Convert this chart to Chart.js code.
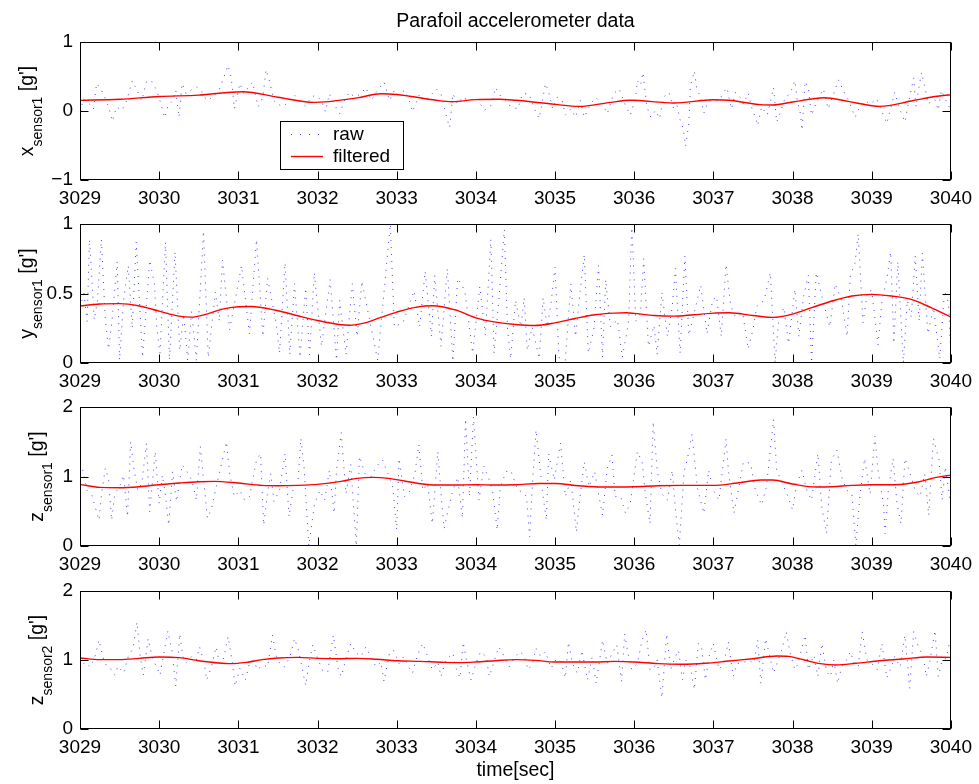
<!DOCTYPE html>
<html>
<head>
<meta charset="utf-8">
<script src="https://cdn.jsdelivr.net/npm/chart.js@4.4.1/dist/chart.umd.min.js"></script>
<style>
html,body{margin:0;padding:0;background:#fff;}
#wrap{position:relative;width:979px;height:784px;overflow:hidden;background:#fff;}
canvas{position:absolute;left:0;}
</style>
</head>
<body>
<div id="wrap">
<canvas id="c1"></canvas>
<canvas id="c2"></canvas>
<canvas id="c3"></canvas>
<canvas id="c4"></canvas>
</div>
<script>
// ---------------- DATA ----------------
const T0 = 3029;
const xTickVals = [3029,3030,3031,3032,3033,3034,3035,3036,3037,3038,3039,3040];
const yTicks1 = [-1,0,1];
const yTicks2 = [0,0.5,1];
const yTicks3 = [0,1,2];
const yTicks4 = [0,1,2];
const titleText = 'Parafoil accelerometer data';
const xLabelText = 'time[sec]';
const yLabelMain = ['x','y','z','z'];
const yLabelSub = ['sensor1','sensor1','sensor1','sensor2'];
const yLabelUnit = " [g']";
const seriesNames = ['raw','filtered'];

// filtered (absolute time, g)
const filtT1 = [3029,3029.5,3030,3030.5,3031.05,3031.5,3031.95,3032.5,3032.8,3033,3033.5,3033.7,3034,3034.3,3034.5,3035,3035.3,3035.7,3035.95,3036.5,3037,3037.2,3037.6,3037.75,3038,3038.4,3038.7,3039,3039.1,3039.5,3039.8,3040];
const filtV1 = [0.154,0.17,0.21,0.23,0.28,0.20,0.125,0.19,0.25,0.24,0.155,0.135,0.165,0.17,0.155,0.096,0.067,0.125,0.155,0.116,0.164,0.155,0.092,0.087,0.13,0.193,0.14,0.077,0.067,0.145,0.21,0.236];

const filtT2 = [3029,3029.25,3029.5,3029.75,3030,3030.25,3030.4,3030.6,3030.8,3031,3031.15,3031.5,3031.75,3032,3032.3,3032.4,3032.6,3032.8,3033,3033.25,3033.45,3033.75,3034,3034.25,3034.5,3034.75,3035,3035.25,3035.5,3035.75,3035.9,3036,3036.25,3036.5,3036.75,3037,3037.2,3037.5,3037.75,3038,3038.25,3038.5,3038.75,3039,3039.25,3039.5,3039.75,3040];
const filtV2 = [0.41,0.424,0.427,0.41,0.373,0.337,0.33,0.352,0.388,0.405,0.407,0.376,0.34,0.306,0.275,0.272,0.289,0.328,0.366,0.402,0.412,0.38,0.325,0.294,0.277,0.27,0.289,0.32,0.347,0.359,0.361,0.357,0.342,0.337,0.347,0.359,0.361,0.342,0.328,0.352,0.40,0.446,0.482,0.494,0.482,0.458,0.398,0.33];

const filtT3 = [3029,3029.25,3029.5,3029.75,3030,3030.25,3030.5,3030.7,3031,3031.3,3031.5,3031.75,3032,3032.3,3032.5,3032.7,3032.9,3033.1,3033.3,3033.5,3033.75,3034,3034.25,3034.5,3034.8,3035,3035.3,3035.6,3036,3036.3,3036.6,3037,3037.3,3037.6,3037.75,3038,3038.3,3038.5,3038.75,3039,3039.3,3039.6,3039.8,3040];
const filtV3 = [0.887,0.843,0.839,0.853,0.882,0.906,0.925,0.93,0.906,0.872,0.867,0.872,0.887,0.93,0.973,0.988,0.973,0.935,0.896,0.877,0.877,0.882,0.877,0.882,0.90,0.90,0.867,0.848,0.853,0.867,0.872,0.872,0.906,0.949,0.949,0.892,0.848,0.853,0.872,0.882,0.882,0.925,0.983,1.02];

const filtT4 = [3029,3029.25,3029.5,3029.75,3030,3030.25,3030.5,3030.75,3030.9,3031.1,3031.3,3031.5,3031.75,3032,3032.25,3032.5,3032.75,3033,3033.3,3033.6,3033.8,3034,3034.25,3034.5,3034.75,3035,3035.5,3035.75,3036,3036.3,3036.6,3036.9,3037.2,3037.5,3037.8,3037.95,3038.15,3038.35,3038.55,3038.8,3039.1,3039.4,3039.7,3040];
const filtV4 = [1.029,1.005,1.005,1.024,1.043,1.034,0.99,0.957,0.947,0.966,1.005,1.029,1.038,1.024,1.019,1.024,1.01,0.99,0.98,0.966,0.962,0.971,0.99,1.005,0.995,0.971,0.971,0.98,0.971,0.947,0.938,0.952,0.986,1.019,1.058,1.053,1.0,0.947,0.928,0.952,0.99,1.014,1.043,1.038];

// raw (time offset from T0 in s, g)
const rawT1 = [
0.01,0.04,0.12,0.17,0.21,0.27,0.33,0.36,0.41,0.46,
0.53,0.59,0.66,0.72,0.78,0.84,0.90,0.97,1.01,1.07,
1.11,1.17,1.21,1.25,1.29,1.34,1.42,1.47,1.53,1.60,
1.68,1.76,1.87,1.91,1.95,2.02,2.07,2.13,2.18,2.25,
2.31,2.35,2.39,2.45,2.50,2.56,2.65,2.71,2.77,2.85,
2.92,2.98,3.05,3.10,3.15,3.21,3.28,3.34,3.40,3.47,
3.55,3.61,3.68,3.74,3.84,3.91,3.97,4.03,4.10,4.16,
4.20,4.29,4.35,4.41,4.50,4.56,4.60,4.64,4.67,4.71,
4.77,4.83,4.92,5.00,5.11,5.19,5.25,5.32,5.38,5.44,
5.53,5.59,5.67,5.74,5.80,5.88,5.92,5.97,6.03,6.09,
6.13,6.20,6.26,6.32,6.37,6.43,6.51,6.60,6.66,6.74,
6.81,6.89,6.95,7.02,7.04,7.08,7.11,7.16,7.21,7.27,
7.32,7.37,7.44,7.50,7.54,7.58,7.62,7.65,7.69,7.71,
7.76,7.79,7.84,7.88,7.94,8.00,8.07,8.13,8.17,8.23,
8.28,8.34,8.38,8.44,8.49,8.53,8.56,8.61,8.68,8.72,
8.76,8.80,8.84,8.91,8.97,9.03,9.06,9.10,9.12,9.16,
9.20,9.24,9.31,9.39,9.45,9.52,9.58,9.64,9.71,9.79,
9.85,9.92,9.98,10.06,10.13,10.19,10.23,10.29,10.36,10.42,
10.47,10.53,10.56,10.59,10.63,10.67,10.72,10.78,10.84,10.88,
10.94,10.99];
const rawV1 = [
-0.01,0.18,0.10,0.03,0.40,0.31,0.15,0.06,-0.15,0.06,
0.01,0.15,0.44,0.30,0.15,0.43,0.44,0.30,0.15,-0.10,
0.07,0.15,0.30,-0.09,0.40,0.25,0.32,0.35,0.30,0.15,
0.20,0.31,0.66,0.49,0.03,0.40,0.25,0.35,0.42,0.06,
0.20,0.60,0.45,0.15,0.10,0.06,0.15,0.23,0.15,0.07,
0.20,0.23,0.15,-0.01,0.25,0.10,-0.04,0.15,0.27,0.20,
0.25,0.34,0.15,0.27,0.42,0.15,0.30,0.23,0.30,0.15,
-0.01,0.25,0.15,0.20,0.32,0.25,0.06,-0.13,-0.24,0.25,
0.10,0.20,0.15,0.20,0.01,0.08,0.34,0.20,0.15,0.06,
0.03,0.25,0.25,0.03,-0.11,0.40,0.27,0.03,0.20,0.15,
-0.06,0.03,-0.09,0.15,-0.09,0.06,0.20,0.10,-0.04,0.25,
0.32,0.08,-0.06,0.20,0.44,0.37,0.56,0.06,-0.09,0.01,
-0.11,0.20,0.27,0.03,0.08,-0.13,-0.26,-0.51,-0.18,0.36,
0.58,0.32,0.20,-0.03,0.15,0.15,0.15,0.27,0.34,0.03,
0.27,0.20,0.10,0.26,0.03,-0.09,-0.21,0.06,-0.06,0.13,
0.34,-0.16,-0.04,0.20,0.25,0.44,0.15,-0.04,-0.28,0.43,
0.32,-0.06,0.15,0.32,0.03,0.25,0.45,0.30,0.15,-0.09,
0.06,0.15,0.10,0.18,-0.01,-0.18,-0.01,0.27,0.01,-0.16,
0.15,0.48,0.06,0.30,0.56,0.35,0.10,0.23,0.01,0.30,
0.15,0.03];

const rawT2 = [
0.00,0.05,0.09,0.12,0.18,0.22,0.27,0.32,0.36,0.40,
0.47,0.50,0.55,0.61,0.66,0.71,0.79,0.88,0.94,0.97,
1.01,1.08,1.13,1.20,1.26,1.31,1.36,1.41,1.47,1.56,
1.62,1.71,1.76,1.80,1.89,2.04,2.14,2.23,2.31,2.37,
2.48,2.52,2.59,2.65,2.71,2.78,2.85,2.90,2.96,3.05,
3.16,3.24,3.28,3.36,3.44,3.50,3.56,3.63,3.70,3.76,
3.92,3.97,4.08,4.22,4.29,4.36,4.44,4.48,4.56,4.64,
4.71,4.77,4.86,4.96,5.05,5.12,5.19,5.23,5.29,5.36,
5.40,5.44,5.50,5.57,5.61,5.65,5.71,5.80,5.85,5.90,
5.95,6.00,6.05,6.13,6.20,6.26,6.32,6.37,6.42,6.49,
6.55,6.60,6.64,6.70,6.79,6.85,6.93,6.97,7.02,7.08,
7.12,7.18,7.25,7.29,7.35,7.42,7.48,7.52,7.58,7.64,
7.69,7.75,7.84,7.92,7.99,8.04,8.10,8.16,8.22,8.28,
8.37,8.44,8.50,8.55,8.64,8.72,8.78,8.82,8.89,8.95,
9.03,9.08,9.14,9.20,9.24,9.30,9.37,9.47,9.54,9.62,
9.69,9.73,9.79,9.83,9.89,9.95,10.00,10.08,10.13,10.19,
10.24,10.28,10.33,10.40,10.45,10.50,10.55,10.60,10.64,10.71,
10.78,10.86,10.92,10.97,11.00];
const rawV2 = [
0.40,0.50,0.30,0.89,0.31,0.45,0.89,0.31,0.10,0.28,
0.73,0.02,0.45,0.70,0.25,0.87,0.04,0.74,0.57,0.25,
0.07,0.87,0.02,0.80,0.09,0.35,0.02,0.37,0.02,0.95,
0.04,0.51,0.30,0.74,0.24,0.70,0.21,0.89,0.19,0.61,
0.28,0.07,0.72,0.06,0.57,0.04,0.54,0.06,0.65,0.12,
0.60,0.02,0.45,0.06,0.57,0.19,0.59,0.39,0.19,0.02,
1.00,0.26,0.29,0.52,0.26,0.66,0.19,0.63,0.12,0.68,
0.01,0.61,0.52,0.07,0.55,0.20,0.89,0.07,0.45,0.96,
0.24,0.03,0.45,0.26,0.47,0.09,0.26,0.03,0.47,0.26,
0.43,0.69,0.04,0.02,0.57,0.19,0.53,0.78,0.07,0.24,
0.70,0.04,0.60,0.26,0.31,0.04,0.30,1.00,0.30,0.36,
0.75,0.12,0.27,0.06,0.51,0.19,0.40,0.68,0.07,0.77,
0.20,0.34,0.56,0.21,0.45,0.48,0.19,0.71,0.41,0.33,
0.36,0.10,0.24,0.41,0.45,0.65,0.00,0.28,0.40,0.14,
0.53,0.19,0.48,0.63,0.00,0.65,0.48,0.26,0.57,0.45,
0.19,0.63,0.72,0.93,0.29,0.52,0.52,0.13,0.45,0.60,
0.80,0.14,0.73,0.00,0.45,0.33,0.77,0.30,0.79,0.21,
0.40,0.03,0.52,0.43,0.04];

const rawT3 = [
0.00,0.04,0.09,0.15,0.24,0.27,0.32,0.36,0.40,0.44,
0.50,0.55,0.60,0.64,0.68,0.73,0.78,0.84,0.88,0.95,
1.00,1.04,1.08,1.12,1.17,1.22,1.29,1.34,1.41,1.47,
1.52,1.57,1.61,1.66,1.72,1.78,1.85,1.89,1.95,2.02,
2.08,2.14,2.23,2.28,2.32,2.37,2.41,2.45,2.52,2.59,
2.64,2.69,2.75,2.79,2.83,2.89,2.96,3.03,3.09,3.15,
3.21,3.24,3.30,3.36,3.42,3.49,3.53,3.60,3.68,3.74,
3.82,3.89,3.95,4.00,4.03,4.10,4.16,4.23,4.28,4.33,
4.39,4.45,4.52,4.57,4.60,4.64,4.71,4.77,4.83,4.87,
4.92,4.97,5.04,5.10,5.17,5.21,5.27,5.31,5.38,5.44,
5.53,5.59,5.64,5.68,5.71,5.76,5.80,5.84,5.89,5.92,
5.99,6.07,6.13,6.20,6.27,6.32,6.37,6.43,6.50,6.60,
6.66,6.72,6.76,6.83,6.89,6.95,7.04,7.10,7.14,7.20,
7.24,7.29,7.35,7.42,7.48,7.52,7.57,7.63,7.67,7.73,
7.80,7.88,7.94,8.00,8.07,8.11,8.16,8.19,8.26,8.30,
8.38,8.47,8.53,8.61,8.67,8.76,8.80,8.87,8.93,9.00,
9.05,9.12,9.18,9.24,9.32,9.37,9.43,9.49,9.56,9.63,
9.69,9.75,9.80,9.85,9.91,9.98,10.04,10.08,10.15,10.17,
10.21,10.27,10.32,10.37,10.42,10.50,10.55,10.61,10.67,10.72,
10.78,10.85,10.89,10.93,10.99];
const rawV3 = [
1.19,1.07,0.80,0.73,0.37,0.73,1.12,0.97,0.37,0.76,
0.85,1.02,0.42,1.50,1.12,0.80,0.90,1.48,0.49,1.36,
0.61,1.02,0.73,0.30,1.07,0.64,1.17,1.09,0.95,0.66,
1.43,0.85,0.40,0.54,0.85,1.14,1.50,1.04,0.71,0.80,
0.66,0.71,1.24,1.33,0.30,0.78,1.04,0.64,0.80,1.33,
0.42,0.80,0.87,1.55,1.14,0.00,0.59,0.80,0.66,1.09,
0.47,1.09,1.63,0.75,1.17,0.00,1.29,1.04,1.00,1.14,
1.24,1.04,0.85,0.23,1.26,0.71,0.78,1.04,1.46,0.80,
0.90,0.32,1.36,0.61,0.25,0.47,0.80,0.99,0.40,1.83,
0.71,1.86,0.66,1.15,0.95,0.80,0.23,0.85,1.07,1.09,
0.80,0.78,0.71,0.13,0.80,1.67,1.24,0.80,0.37,1.33,
0.95,1.48,0.71,0.95,0.20,0.75,1.21,0.85,1.07,0.44,
1.12,1.31,0.71,0.71,0.47,0.61,1.36,1.21,0.76,0.32,
1.79,1.09,0.75,0.66,1.09,0.54,0.01,1.07,1.24,1.61,
0.83,0.47,1.09,0.80,0.66,1.04,1.54,1.09,0.47,0.71,
1.21,1.19,0.80,0.59,0.85,1.82,1.09,0.90,0.75,0.52,
0.88,1.09,0.80,0.66,1.33,0.56,0.18,1.24,1.38,0.95,
0.80,0.75,0.01,0.71,1.26,0.75,1.58,1.09,0.59,0.18,
0.80,1.26,0.61,0.32,1.26,0.99,0.80,0.71,1.04,0.44,
1.55,1.24,0.66,1.14,0.66];

const rawT4 = [
0.00,0.06,0.13,0.19,0.24,0.29,0.34,0.40,0.44,0.48,
0.55,0.61,0.67,0.72,0.76,0.80,0.86,0.92,0.97,1.01,
1.07,1.11,1.16,1.21,1.26,1.30,1.34,1.41,1.47,1.51,
1.57,1.60,1.66,1.72,1.76,1.81,1.87,1.92,1.96,2.02,
2.09,2.14,2.19,2.24,2.31,2.37,2.43,2.48,2.53,2.58,
2.65,2.71,2.76,2.81,2.85,2.90,2.94,3.01,3.07,3.13,
3.20,3.26,3.30,3.36,3.42,3.49,3.55,3.61,3.67,3.74,
3.80,3.84,3.91,3.96,4.03,4.09,4.15,4.20,4.26,4.33,
4.39,4.45,4.52,4.56,4.62,4.71,4.75,4.80,4.84,4.88,
4.94,5.00,5.06,5.13,5.17,5.23,5.29,5.36,5.42,5.48,
5.55,5.61,5.66,5.71,5.76,5.82,5.88,5.95,6.01,6.07,
6.13,6.17,6.22,6.28,6.34,6.41,6.47,6.52,6.60,6.66,
6.71,6.78,6.84,6.88,6.92,6.97,7.04,7.10,7.15,7.20,
7.25,7.29,7.35,7.41,7.46,7.52,7.56,7.61,7.65,7.71,
7.76,7.81,7.85,7.90,7.95,8.00,8.07,8.13,8.19,8.25,
8.30,8.36,8.45,8.51,8.56,8.60,8.66,8.71,8.76,8.82,
8.87,8.92,8.97,9.03,9.07,9.12,9.16,9.20,9.27,9.32,
9.37,9.43,9.48,9.52,9.57,9.62,9.68,9.73,9.78,9.83,
9.88,9.94,10.00,10.07,10.13,10.19,10.25,10.29,10.36,10.42,
10.48,10.53,10.59,10.65,10.69,10.73,10.80,10.84,10.89,10.94,
10.98];
const rawV4 = [
0.86,0.97,0.90,1.05,1.29,1.04,0.90,0.86,0.78,0.91,
0.81,1.05,1.17,1.55,1.05,0.78,1.31,1.00,0.90,0.78,
1.17,1.42,1.14,0.62,1.38,1.05,0.96,1.05,1.00,1.19,
0.95,0.71,0.90,1.19,0.95,1.00,1.34,1.00,0.62,0.88,
0.71,0.95,1.00,0.86,0.93,0.90,1.36,1.05,0.93,0.90,
1.04,1.31,1.14,0.86,0.63,1.00,1.22,1.00,0.83,0.83,
1.36,0.88,0.76,1.02,1.24,1.10,1.05,1.19,1.05,0.90,
0.97,0.69,1.10,1.14,0.95,1.05,0.90,0.81,1.07,1.24,
1.05,0.86,0.97,0.76,1.00,1.10,0.88,0.74,1.26,1.00,
0.71,0.95,1.12,1.05,0.76,0.98,1.19,1.05,0.90,1.02,
1.12,1.07,0.86,0.93,1.17,1.05,1.12,0.88,1.00,1.00,
0.74,1.26,0.95,0.81,1.14,0.71,1.05,0.66,1.29,0.95,
1.07,1.22,0.69,1.38,1.10,0.86,0.95,1.29,1.44,0.86,
0.88,1.00,0.45,1.38,0.86,1.05,1.14,0.71,1.00,0.90,
0.57,1.24,1.19,0.71,1.07,1.24,0.86,0.95,1.26,0.76,
0.95,0.95,1.00,0.95,1.29,0.66,1.31,1.07,0.81,1.00,
1.17,1.41,1.10,0.86,0.95,1.19,1.36,0.86,1.07,0.76,
1.24,0.83,0.76,1.00,0.66,0.90,1.00,1.12,0.95,0.90,
1.41,1.00,0.95,0.86,1.24,0.74,0.90,1.05,0.90,1.36,
0.59,1.41,1.19,1.05,0.76,0.95,1.43,0.76,1.00,1.02,
1.24];

// ---------------- STYLE / LAYOUT ----------------
const FONT = '"Liberation Sans", Arial, Helvetica, sans-serif';
const TICK_PX = 19;
const LABEL_PX = 19.5;
const RAW_COLOR = 'rgba(0,0,255,0.75)';
const RAW_DASH = [1, 6];
Chart.defaults.font.family = FONT;
Chart.defaults.font.size = TICK_PX;
Chart.defaults.color = '#000';

const panels = [
  {id:'c1', top:0,   padTop:42, plotH:138, xH:36, yMin:-1, yMax:1, yTicks:yTicks1, rawT:rawT1, rawV:rawV1, fT:filtT1, fV:filtV1, labX:33, title:true},
  {id:'c2', top:204, padTop:20, plotH:139, xH:36, yMin:0,  yMax:1, yTicks:yTicks2, rawT:rawT2, rawV:rawV2, fT:filtT2, fV:filtV2, labX:33},
  {id:'c3', top:387, padTop:20, plotH:139, xH:36, yMin:0,  yMax:2, yTicks:yTicks3, rawT:rawT3, rawV:rawV3, fT:filtT3, fV:filtV3, labX:43},
  {id:'c4', top:571, padTop:20, plotH:138, xH:55, yMin:0,  yMax:2, yTicks:yTicks4, rawT:rawT4, rawV:rawV4, fT:filtT4, fV:filtV4, labX:43, xlabel:true}
];

function fmtY(v){ return v < 0 ? '\u2212' + Math.abs(v) : String(v); }

const framePlugin = {
  id: 'frame',
  afterDatasetsDraw(chart, args, opts){
    const {ctx, chartArea:a, scales:{x, y}} = chart;
    const L = Math.round(a.left) + 0.5, R = Math.round(a.right) - 0.5;
    const T = Math.round(a.top) + 0.5, B = Math.round(a.bottom) - 0.5;
    const TL = 8;
    ctx.save();
    ctx.strokeStyle = '#000';
    ctx.lineWidth = 1;
    ctx.beginPath();
    x.ticks.forEach(t => {
      const px = Math.round(x.getPixelForValue(t.value)) + 0.5;
      ctx.moveTo(px, B); ctx.lineTo(px, B - TL);
      ctx.moveTo(px, T); ctx.lineTo(px, T + TL);
    });
    y.ticks.forEach(t => {
      const py = Math.round(y.getPixelForValue(t.value)) + 0.5;
      ctx.moveTo(L, py); ctx.lineTo(L + TL, py);
      ctx.moveTo(R, py); ctx.lineTo(R - TL, py);
    });
    ctx.stroke();
    ctx.strokeRect(L, T, R - L, B - T);

    // y label with subscript
    const i = opts.index;
    const cy = (a.top + a.bottom) / 2;
    const fMain = LABEL_PX + 'px ' + FONT;
    const fSub = '14px ' + FONT;
    ctx.fillStyle = '#000';
    ctx.textBaseline = 'alphabetic';
    ctx.textAlign = 'left';
    ctx.font = fMain; const w1 = ctx.measureText(yLabelMain[i]).width;
    ctx.font = fSub;  const w2 = ctx.measureText(yLabelSub[i]).width;
    ctx.font = fMain; const w3 = ctx.measureText(yLabelUnit).width;
    const total = w1 + w2 + w3;
    ctx.save();
    ctx.translate(opts.labX, cy);
    ctx.rotate(-Math.PI / 2);
    let sx = -total / 2;
    ctx.font = fMain; ctx.fillText(yLabelMain[i], sx, 0); sx += w1;
    ctx.font = fSub;  ctx.fillText(yLabelSub[i], sx, 8.5); sx += w2;
    ctx.font = fMain; ctx.fillText(yLabelUnit, sx, 0);
    ctx.restore();

    const midX = (a.left + a.right) / 2;
    if (opts.title) {
      ctx.font = LABEL_PX + 'px ' + FONT;
      ctx.textAlign = 'center';
      ctx.fillText(titleText, midX, 27);
      // legend box
      const bx = 280.5, by = 121.5, bw = 123, bh = 48;
      ctx.fillStyle = '#fff';
      ctx.fillRect(bx, by, bw, bh);
      ctx.strokeStyle = '#000';
      ctx.strokeRect(bx, by, bw, bh);
      // raw sample
      ctx.strokeStyle = RAW_COLOR;
      ctx.setLineDash([1, 8]);
      ctx.beginPath(); ctx.moveTo(291, 134.5); ctx.lineTo(320, 134.5); ctx.stroke();
      ctx.setLineDash([]);
      // filtered sample
      ctx.strokeStyle = '#ff0000';
      ctx.lineWidth = 1.4;
      ctx.beginPath(); ctx.moveTo(291, 156.5); ctx.lineTo(323, 156.5); ctx.stroke();
      ctx.fillStyle = '#000';
      ctx.textAlign = 'left';
      ctx.textBaseline = 'middle';
      ctx.font = TICK_PX + 'px ' + FONT;
      ctx.fillText(seriesNames[0], 333, 135);
      ctx.fillText(seriesNames[1], 333, 157);
    }
    if (opts.xlabel) {
      ctx.font = LABEL_PX + 'px ' + FONT;
      ctx.textAlign = 'center';
      ctx.textBaseline = 'alphabetic';
      ctx.fillText(xLabelText, midX, a.bottom + 47);
    }
    ctx.restore();
  }
};

panels.forEach((p, idx) => {
  const cv = document.getElementById(p.id);
  cv.width = 979;
  cv.height = p.padTop + p.plotH + p.xH;
  cv.style.top = p.top + 'px';
  const rawData = p.rawT.map((t, k) => ({x: T0 + t, y: p.rawV[k]}));
  const fData = p.fT.map((t, k) => ({x: t, y: p.fV[k]}));
  new Chart(cv, {
    type: 'line',
    data: {
      datasets: [
        {label: seriesNames[1], data: fData, borderColor: '#ff0000', borderWidth: 1.4,
         pointRadius: 0, cubicInterpolationMode: 'monotone', order: 0},
        {label: seriesNames[0], data: rawData, borderColor: RAW_COLOR, borderWidth: 1,
         borderDash: RAW_DASH, pointRadius: 0, tension: 0, order: 1}
      ]
    },
    options: {
      responsive: false, animation: false, devicePixelRatio: 1,
      layout: {padding: {top: p.padTop, right: 26, left: 0, bottom: 0}},
      plugins: {
        legend: {display: false}, tooltip: {enabled: false}, title: {display: false},
        frame: {index: idx, labX: p.labX, title: !!p.title, xlabel: !!p.xlabel}
      },
      scales: {
        x: {
          type: 'linear', min: 3029, max: 3040,
          afterBuildTicks: s => { s.ticks = xTickVals.map(v => ({value: v})); },
          afterFit: s => { s.height = p.xH; },
          ticks: {padding: 7, maxRotation: 0, autoSkip: false, callback: v => String(v)},
          grid: {display: false, drawTicks: false},
          border: {display: false}
        },
        y: {
          type: 'linear', min: p.yMin, max: p.yMax,
          afterBuildTicks: s => { s.ticks = p.yTicks.map(v => ({value: v})); },
          afterFit: s => { s.width = 80; },
          ticks: {padding: 7, callback: fmtY},
          grid: {display: false, drawTicks: false},
          border: {display: false}
        }
      }
    },
    plugins: [framePlugin]
  });
});
</script>
</body>
</html>
